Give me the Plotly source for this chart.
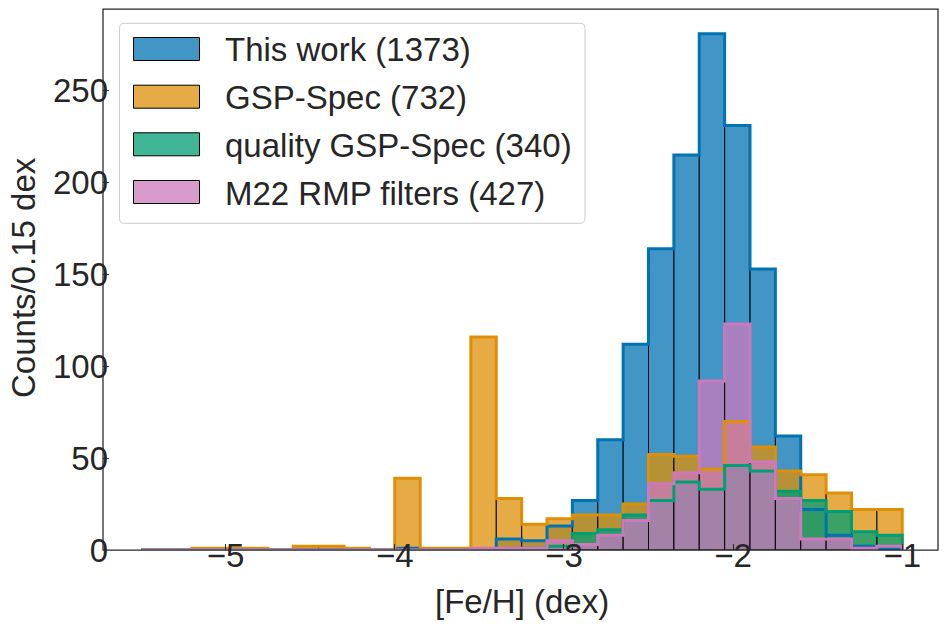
import plotly.graph_objects as go

# ---------------- data ----------------
bin_start = -5.5
bin_width = 0.15
n_bins = 30

series_names = ["This work (1373)", "GSP-Spec (732)", "quality GSP-Spec (340)", "M22 RMP filters (427)"]
series_colors = [(1, 115, 178), (222, 143, 5), (2, 158, 115), (204, 120, 188)]

this_work = [0, 0, 0, 0, 0, 0, 0, 0, 0, 0,
             1, 0, 0, 0, 6, 5, 13, 27, 60, 112,
             164, 215, 281, 231, 153, 62, 22, 8, 2, 1]
gsp_spec = [0, 0, 1, 1, 1, 0, 2, 2, 1, 0,
            39, 1, 1, 116, 28, 14, 17, 19, 19, 25,
            52, 51, 44, 70, 56, 43, 41, 31, 22, 22]
quality_gsp = [0, 0, 0, 0, 0, 0, 0, 0, 0, 0,
               0, 0, 0, 0, 0, 1, 2, 9, 11, 19,
               27, 37, 33, 46, 43, 32, 27, 21, 10, 8]
m22_rmp = [0, 0, 0, 0, 0, 0, 0, 0, 0, 0,
           0, 0, 0, 1, 1, 1, 5, 3, 8, 16,
           36, 42, 92, 123, 48, 28, 6, 6, 1, 2]

series_counts = [this_work, gsp_spec, quality_gsp, m22_rmp]

x_ticks = [-5, -4, -3, -2, -1]
y_ticks = [0, 50, 100, 150, 200, 250]

# ---------------- figure ----------------
OFF = 8                      # page body margin around the plot div
W, H = 947 - 2 * OFF, 629 - 2 * OFF
ML, MR, MT, MB = 95, 1, 1, 71
PW, PH = W - ML - MR, H - MT - MB
PX_PER_DEX = 169.15
PX_PER_COUNT = 1.8372
X_LEFT = -5.725

edges = [bin_start + i * bin_width for i in range(n_bins + 1)]
centers = [bin_start + (i + 0.5) * bin_width for i in range(n_bins)]

FONT = "Liberation Sans, Arial, sans-serif"
TXT = "#262626"
FS = 33
ALPHA = 0.75


def rgba(c, a):
    return f"rgba({c[0]},{c[1]},{c[2]},{a})"


fig = go.Figure()

# filled bars with thin black bin edges
for name, col, counts in zip(series_names, series_colors, series_counts):
    fig.add_trace(go.Bar(
        x=centers,
        y=[c if c > 0 else None for c in counts],
        width=bin_width,
        marker=dict(color=rgba(col, ALPHA), line=dict(color="rgba(0,0,0,0.9)", width=1)),
        name=name,
        showlegend=False,
        hoverinfo="skip",
    ))

# coloured step outlines
for name, col, counts in zip(series_names, series_colors, series_counts):
    sx, sy = [edges[0]], [0]
    for i, c in enumerate(counts):
        sx += [edges[i], edges[i + 1]]
        sy += [c, c]
    sx.append(edges[-1])
    sy.append(0)
    fig.add_trace(go.Scatter(
        x=sx, y=sy, mode="lines",
        line=dict(color=rgba(col, 1), width=3),
        showlegend=False, hoverinfo="skip",
    ))


# ---------------- manual legend (page pixel coords -> paper) ----------------
def px2x(px):
    return (px - OFF - ML) / PW


def py2y(py):
    return (MT + PH - (py - OFF)) / PH


bx0, bx1, by0, by1 = 119.5, 585, 23.3, 223.3
r = 5
rx, ry = r / PW, r / PH
X0, X1, Y0, Y1 = px2x(bx0), px2x(bx1), py2y(by1), py2y(by0)
path = (f"M {X0+rx},{Y0} L {X1-rx},{Y0} Q {X1},{Y0} {X1},{Y0+ry} "
        f"L {X1},{Y1-ry} Q {X1},{Y1} {X1-rx},{Y1} "
        f"L {X0+rx},{Y1} Q {X0},{Y1} {X0},{Y1-ry} "
        f"L {X0},{Y0+ry} Q {X0},{Y0} {X0+rx},{Y0} Z")
shapes = [
    # axes frame (spines)
    dict(type="rect", xref="paper", yref="paper", x0=0, x1=1, y0=0, y1=1,
         line=dict(color=TXT, width=1.25), fillcolor="rgba(0,0,0,0)", layer="above"),
    dict(type="path", xref="paper", yref="paper", path=path,
         fillcolor="rgba(255,255,255,0.8)", line=dict(color="#cccccc", width=1)),
]
annotations = []
row_centers = [49, 96.7, 144.3, 192]
for name, col, yc in zip(series_names, series_colors, row_centers):
    shapes.append(dict(type="rect", xref="paper", yref="paper",
                       x0=px2x(133.5), x1=px2x(199.5),
                       y0=py2y(yc + 11.5), y1=py2y(yc - 11.5),
                       fillcolor=rgba(col, ALPHA), line=dict(color="black", width=1)))
    annotations.append(dict(xref="paper", yref="paper", x=px2x(223), y=py2y(yc + 1),
                            xanchor="left", yanchor="middle", text=name, showarrow=False,
                            font=dict(family=FONT, size=FS, color=TXT)))

# axis titles as annotations for exact placement
annotations.append(dict(xref="paper", yref="paper", x=px2x(522), y=py2y(601),
                        xanchor="center", yanchor="middle", text="[Fe/H] (dex)", showarrow=False,
                        font=dict(family=FONT, size=FS, color=TXT)))
annotations.append(dict(xref="paper", yref="paper", x=px2x(23), y=py2y(278),
                        xanchor="center", yanchor="middle", text="Counts/0.15 dex", showarrow=False,
                        textangle=-90, font=dict(family=FONT, size=FS, color=TXT)))

axis_common = dict(
    showline=False,
    ticks="inside", ticklen=6, tickwidth=1.25, tickcolor=TXT,
    showgrid=False, zeroline=False, automargin=False,
    tickfont=dict(family=FONT, size=FS, color=TXT),
)

fig.update_layout(
    width=W, height=H,
    margin=dict(l=ML, r=MR, t=MT, b=MB),
    paper_bgcolor="white", plot_bgcolor="white",
    barmode="overlay",
    showlegend=False,
    shapes=shapes,
    annotations=annotations,
    xaxis=dict(range=[X_LEFT, X_LEFT + PW / PX_PER_DEX], tickvals=x_ticks,
               ticklabelstandoff=-17, **axis_common),
    yaxis=dict(range=[0, PH / PX_PER_COUNT], tickvals=y_ticks,
               ticklabelstandoff=-6, **axis_common),
)

fig.write_html("out.html")
